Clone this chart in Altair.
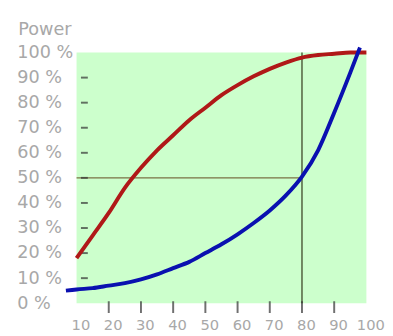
import altair as alt
import pandas as pd

# Red curve (x, power %)
red_x = [10, 15, 20, 25, 30, 35, 40, 45, 50, 55, 60, 65, 70, 75, 80, 85, 90, 95, 100]
red_y = [18, 27, 36, 46, 54, 61, 67, 73, 78, 83, 87, 90.5, 93.5, 96, 98, 99, 99.5, 100, 100]

# Blue curve (x, power %)
blue_x = [6.7, 10, 15, 20, 25, 30, 35, 40, 45, 50, 55, 60, 65, 70, 75, 80, 85, 90, 95, 98]
blue_y = [5, 5.5, 6, 7, 8, 9.5, 11.5, 14, 16.5, 20, 23.5, 27.5, 32, 37, 43, 50.5, 61, 76, 92, 102]

x_labels = [10, 20, 30, 40, 50, 60, 70, 80, 90, 100]
x_ticks = [20, 30, 40, 50, 60, 70, 80, 90]
y_labels = [0, 10, 20, 30, 40, 50, 60, 70, 80, 90, 100]
y_ticks = [10, 20, 30, 40, 50, 60, 70, 80, 90]

ref_x = 80
ref_y = 50

red_df = pd.DataFrame({"x": red_x, "y": red_y})
blue_df = pd.DataFrame({"x": blue_x, "y": blue_y})

xs = alt.Scale(domain=[10, 100], nice=False, zero=False)
ys = alt.Scale(domain=[0, 100], nice=False, zero=False)

x_axis = alt.Axis(values=x_labels, ticks=False, domain=False, grid=False, title=None,
                  labelFont="DejaVu Sans", labelFontSize=15, labelColor="#a8a8a8",
                  labelPadding=15, labelOffset=4, labelOverlap=False, labelFlush=False)
y_axis = alt.Axis(values=y_labels, ticks=False, domain=False, grid=False,
                  labelExpr="datum.value + ' %'", labelAlign="left", labelPadding=61,
                  labelFont="DejaVu Sans", labelFontSize=18, labelColor="#a8a8a8",
                  labelOverlap=False, labelFlush=False,
                  title="Power", titleAngle=0, titleAlign="left", titleBaseline="middle",
                  titleX=-60, titleY=-23, titleFont="DejaVu Sans", titleFontSize=18,
                  titleFontWeight="normal", titleColor="#a8a8a8")

X = alt.X("x:Q", scale=xs, axis=x_axis)
Y = alt.Y("y:Q", scale=ys, axis=y_axis)

vline = alt.Chart(pd.DataFrame({"x": [ref_x], "y": [0], "y2": [100]})).mark_rule(
    color="#4f5f3c", strokeWidth=1.5).encode(x=X, y=Y, y2="y2:Q")

hline = alt.Chart(pd.DataFrame({"x": [10], "x2": [ref_x], "y": [ref_y]})).mark_rule(
    color="#7a7244", strokeWidth=1.5).encode(x=X, x2="x2:Q", y=Y)

xt = alt.Chart(pd.DataFrame({"x": x_ticks, "y": [0] * len(x_ticks)})).mark_tick(
    orient="vertical", size=12, thickness=2, color="#333333", yOffset=4).encode(x=X, y=Y)

yt = alt.Chart(pd.DataFrame({"x": [10] * len(y_ticks), "y": y_ticks})).mark_tick(
    orient="horizontal", size=7, thickness=2, color="#333333", xOffset=8).encode(x=X, y=Y)

red = alt.Chart(red_df).mark_line(color="#b01818", strokeWidth=4, interpolate="monotone").encode(x=X, y=Y)

blue = alt.Chart(blue_df).mark_line(color="#0a10b0", strokeWidth=4, interpolate="monotone").encode(x=X, y=Y)

chart = alt.layer(vline, hline, xt, yt, red, blue).properties(
    width=296, height=256,
    autosize=alt.AutoSizeParams(type="none"),
    padding={"left": 70, "top": 42, "right": 19, "bottom": 30},
).configure(background="white").configure_view(fill="#ccffcc", stroke=None)

chart.save("out.html", embed_options={"renderer": "svg", "actions": False})
